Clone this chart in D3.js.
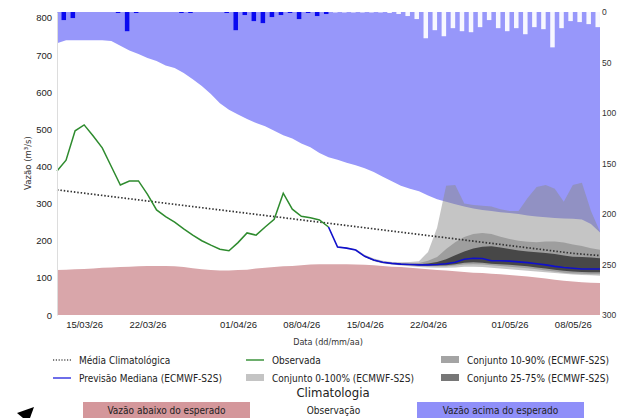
<!DOCTYPE html>
<html><head><meta charset="utf-8">
<script src="https://cdn.jsdelivr.net/npm/d3@7"></script>
<style>
body{margin:0;background:#fff;}
svg{display:block;font-family:"DejaVu Sans Condensed","DejaVu Sans",sans-serif;font-stretch:condensed;}
</style></head><body>
<svg id="c" width="618" height="418"></svg>
<script>
// ---- data (day index 0 = 12/03/2026) ----
const startDate = "2026-03-12";
const climUpper = [732,740,740,740,740,740,738,725,712,703,692,684,672,665,652,635,617,595,570,553,540,528,517,508,496,484,475,462,452,436,425,418,410,403,395,385,372,360,348,340,333,322,312,305,298,292,287,283,280,277,275,272,268,265,263,261,260,259,257,245,222];
const climLower = [121,122,123,124,125,127,128,129,130,131,132,132,132,131,129,126,123,121,120,120,121,122,125,127,129,131,132,134,136,137,137,137,137,136,135,134,132,130,129,127,125,123,121,120,118,116,114,113,111,110,108,106,104,101,98,95,92,90,88,87,86];
const climMean = [337,334,331,328,325,322,319,316,313,310,307,304,301,298,295,292,289,286,283,280,277,274,271,268,265,262,259,256,253,250,247,244,241,238,235,232,229,226,223,220,217,214,211,208,205,202,199,196,193,190,187,184,181,178,175,172,169,166,164,162,160];
const observed = [388,417,496,512,482,450,400,350,361,361,325,283,265,250,232,215,200,188,177,173,195,221,215,237,258,328,285,266,262,256,237];
// forecast, day index 30..60
const fcStart = 30;
const median = [237,183,180,175,158,148,142,139,137,136,135,135,136,138,142,150,153,152,146,146,145,143,141,138,135,131,128,126,124,124,124];
const p100 = [237,185,182,178,162,152,146,143,142,143,145,170,235,348,350,300,296,294,292,285,280,280,315,345,350,340,305,350,356,280,224];
const p90 = [237,184,181,176,159,149,143,140,139,139,140,146,156,178,196,210,218,221,218,211,205,200,197,196,198,198,195,190,186,180,176];
const p75 = [237,183,180,175,158,148,142,139,138,137,137,139,143,150,161,171,179,184,185,182,178,174,171,169,167,164,160,157,156,155,153];
const p25 = [237,183,180,175,157,147,141,138,136,135,134,133,133,134,137,141,142,141,138,137,135,133,131,128,125,122,119,117,116,115,115];
const p10 = [237,183,180,175,157,146,140,137,135,133,132,131,131,131,133,136,137,136,134,132,130,128,126,123,120,117,114,112,111,110,110];
const p0 = [237,183,179,174,156,145,139,136,133,131,129,128,127,127,128,130,130,129,127,125,123,121,119,117,115,113,111,109,108,107,106];
// precipitation (mm), observed days 0..29, forecast days 30..59
const precipObs = [8,6,0,0,0,0,1,19,1,0,0,0,0,1,1,0,0,0,1,18,3,9,11,5,3,1,7,1,4,2];
const precipFc = [0.5,0.5,0.5,0.5,0.5,0.5,1,2,4,7,26,18,24,16,19,20,15,8,16,19,16,22,15,17,35,16,9,10,12,15];
const xTickLabels = ["15/03/26","22/03/26","01/04/26","08/04/26","15/04/26","22/04/26","01/05/26","08/05/26"];
const yTicks = [0,100,200,300,400,500,600,700,800];
const pTicks = [0,50,100,150,200,250,300];

// ---- scales ----
const parse = d3.timeParse("%Y-%m-%d");
const t0 = parse(startDate);
const day = i => d3.timeDay.offset(t0, i);
const x = d3.scaleTime().domain([day(0), day(60)]).range([57, 600]);
const y = d3.scaleLinear().domain([0, 816]).range([315, 12]);
const yp = d3.scaleLinear().domain([0, 300]).range([12, 315]);
const svg = d3.select("#c");

const clim = climUpper.map((u,i)=>({d:day(i),u,l:climLower[i],m:climMean[i]}));
const fc = median.map((m,i)=>({d:day(fcStart+i),m,p0:p0[i],p10:p10[i],p25:p25[i],p75:p75[i],p90:p90[i],p100:p100[i]}));
const obs = observed.map((v,i)=>({d:day(i),v}));

// blue area (above expected)
svg.append("path").datum(clim)
  .attr("d", d3.area().x(d=>x(d.d)).y0(d=>y(d.u)).y1(y.range()[1]))
  .attr("fill","#9797fa");
// pink area (below expected)
svg.append("path").datum(clim)
  .attr("d", d3.area().x(d=>x(d.d)).y0(y(0)).y1(d=>y(d.l)))
  .attr("fill","#d9a6aa");

// precipitation bars
const bw = 4.5;
svg.append("g").selectAll("rect").data(precipObs).join("rect")
  .attr("x",(v,i)=>x(d3.timeHour.offset(day(i),12)))
  .attr("y",yp(0)).attr("width",bw)
  .attr("height",v=>yp(v)-yp(0)).attr("fill","#0a0af0");
svg.append("g").selectAll("rect").data(precipFc).join("rect")
  .attr("x",(v,i)=>x(d3.timeHour.offset(day(30+i),12)))
  .attr("y",yp(0)).attr("width",bw)
  .attr("height",v=>yp(v)-yp(0)).attr("fill","#ffffff").attr("opacity",0.92);

// ensemble bands
const band = (lo,hi)=>d3.area().x(d=>x(d.d)).y0(d=>y(d[lo])).y1(d=>y(d[hi]));
svg.append("path").datum(fc).attr("d",band("p0","p100")).attr("fill","#8c8c8c").attr("opacity",0.5);
svg.append("path").datum(fc).attr("d",band("p10","p90")).attr("fill","#777").attr("opacity",0.5);
svg.append("path").datum(fc).attr("d",band("p25","p75")).attr("fill","#333").attr("opacity",0.82);

// climatological mean
svg.append("path").datum(clim)
  .attr("d", d3.line().x(d=>x(d.d)).y(d=>y(d.m)))
  .attr("fill","none").attr("stroke","#333").attr("stroke-width",1.7).attr("stroke-dasharray","1.5,1.9");
// observed
svg.append("path").datum(obs)
  .attr("d", d3.line().x(d=>x(d.d)).y(d=>y(d.v)))
  .attr("fill","none").attr("stroke","#2e8b2e").attr("stroke-width",1.5);
// median forecast
svg.append("path").datum(fc)
  .attr("d", d3.line().x(d=>x(d.d)).y(d=>y(d.m)))
  .attr("fill","none").attr("stroke","#1010cc").attr("stroke-width",1.6);

// axes
const fmt = d3.timeFormat("%d/%m/%y");
const tickDates = xTickLabels.map(s=>d3.timeParse("%d/%m/%y")(s));
const gx = svg.append("g").attr("transform","translate(0,315)")
  .call(d3.axisBottom(x).tickValues(tickDates).tickFormat(fmt).tickSize(0).tickPadding(6));
gx.select(".domain").remove();
gx.selectAll("text").attr("font-size",9.5).attr("fill","#222").attr("font-family",null);

const gy = svg.append("g").attr("transform","translate(57,0)")
  .call(d3.axisLeft(y).tickValues(yTicks).tickSize(0).tickPadding(5));
gy.select(".domain").attr("stroke","#ddd");
gy.selectAll("text").attr("font-size",9.5).attr("fill","#222").attr("font-family",null);

const gp = svg.append("g").attr("transform","translate(600,0)")
  .call(d3.axisRight(yp).tickValues(pTicks).tickSize(0).tickPadding(2));
gp.select(".domain").remove();
gp.selectAll("text").attr("font-size",8.5).attr("fill","#333").attr("font-family",null);

svg.append("text").attr("transform","translate(31,163) rotate(-90)")
  .attr("text-anchor","middle").attr("font-size",9.5).attr("fill","#333").text("Vazão (m³/s)");
svg.append("text").attr("x",328).attr("y",345).attr("text-anchor","middle")
  .attr("font-size",9).attr("fill","#333").text("Data (dd/mm/aa)");

// legend
const leg = svg.append("g").attr("font-size",10).attr("fill","#222");
const items = [
  {t:"Média Climatológica", type:"dot", x:53, y:360},
  {t:"Previsão Mediana (ECMWF-S2S)", type:"line", c:"#3030e0", x:53, y:378},
  {t:"Observada", type:"line", c:"#2e8b2e", x:246, y:360},
  {t:"Conjunto 0-100% (ECMWF-S2S)", type:"box", c:"#c4c4c4", x:246, y:378},
  {t:"Conjunto 10-90% (ECMWF-S2S)", type:"box", c:"#a4a4a4", x:441, y:360},
  {t:"Conjunto 25-75% (ECMWF-S2S)", type:"box", c:"#777", x:441, y:378}
];
items.forEach(it=>{
  if(it.type==="box"){
    leg.append("rect").attr("x",it.x).attr("y",it.y-4).attr("width",18).attr("height",7).attr("fill",it.c);
  } else {
    const l = leg.append("line").attr("x1",it.x).attr("x2",it.x+18).attr("y1",it.y).attr("y2",it.y)
      .attr("stroke-width",1.4);
    if(it.type==="dot") l.attr("stroke","#555").attr("stroke-dasharray","1.2,1.6");
    else l.attr("stroke",it.c);
  }
  leg.append("text").attr("x",it.x+26).attr("y",it.y+3.5).text(it.t);
});
svg.append("text").attr("x",333).attr("y",397).attr("text-anchor","middle")
  .attr("font-size",13).attr("fill","#222").text("Climatologia");
const boxes = [
  {t:"Vazão abaixo do esperado", c:"#d4979b", x0:83, x1:250},
  {t:"Observação", c:"#ffffff", x0:250, x1:417},
  {t:"Vazão acima do esperado", c:"#8f8ff9", x0:417, x1:584}
];
boxes.forEach(b=>{
  svg.append("rect").attr("x",b.x0).attr("y",402).attr("width",b.x1-b.x0).attr("height",18).attr("fill",b.c);
  svg.append("text").attr("x",(b.x0+b.x1)/2).attr("y",414).attr("text-anchor","middle")
    .attr("font-size",10).attr("fill","#222").text(b.t);
});
// arrow fragment bottom-left
svg.append("path").attr("d","M34,407 L17,413 L23,418 L30,418 Z").attr("fill","#000");
</script>
</body></html>
